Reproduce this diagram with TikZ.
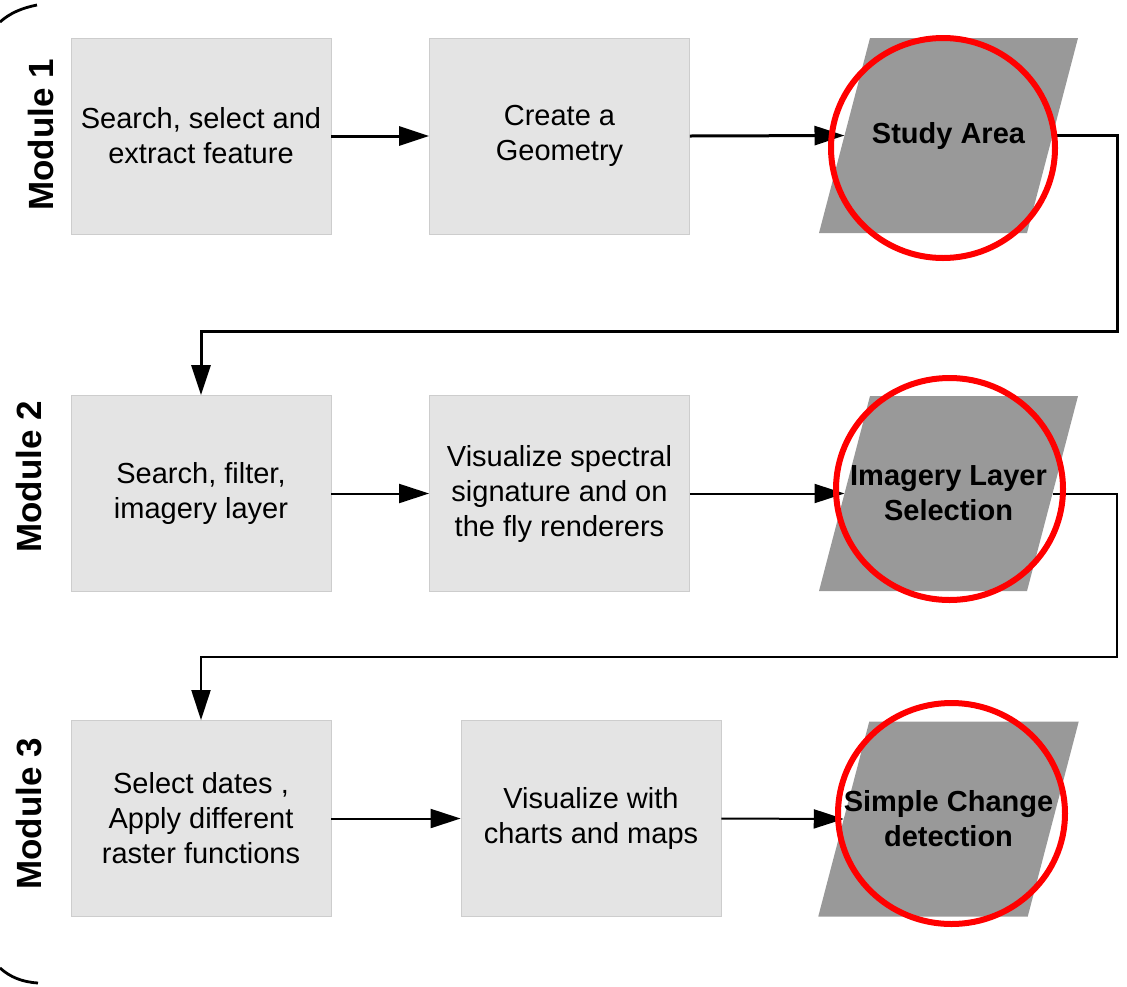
\documentclass[tikz,border=0pt]{standalone}
\usepackage{fontspec}
\setmainfont{Liberation Sans}
\usetikzlibrary{shapes.geometric,arrows.meta,backgrounds}
\definecolor{boxgray}{HTML}{E4E4E4}
\definecolor{boxedge}{HTML}{CDCDCD}
\definecolor{paragray}{HTML}{999999}
\definecolor{ringred}{HTML}{FF0000}
\begin{document}
\begin{tikzpicture}[x=1pt,y=-1pt,
  stepbox/.style={rectangle, fill=boxgray, draw=boxedge, line width=0.8pt,
    minimum width=260pt, minimum height=196pt, align=center, inner sep=0pt,
    font=\fontsize{29}{35}\selectfont},
  para/.style={rectangle, minimum width=208pt, minimum height=195pt,
    inner sep=0pt, outer sep=0pt, align=center,
    font=\fontsize{29}{35}\selectfont\bfseries},
  parafill/.style={fill=paragray},
  ring/.style={ellipse, draw=ringred, line width=6pt, inner sep=0pt},
  modlabel/.style={rotate=90, font=\fontsize{35}{40}\selectfont\bfseries},
  flow/.style={-{Triangle[length=30pt,width=19pt]}, line width=2pt},
  flowthick/.style={flow, line width=3pt},
  bracket/.style={line width=2.8pt}]

\useasboundingbox (0,0) rectangle (1127,986);

% bracket fragments
\draw[bracket] (0,22) .. controls (10,13) and (22,8) .. (37,5);
\draw[bracket] (0,968) .. controls (10,977) and (22,982) .. (38,983);

% module labels
\node[modlabel] (m1) at (41,135) {Module 1};
\node[modlabel] (m2) at (29,477) {Module 2};
\node[modlabel] (m3) at (29,814) {Module 3};

% row 1
\node[stepbox] (b11) at (201,136) {Search, select and\\extract feature};
\node[stepbox] (b12) at (559.5,136) {Create a\\Geometry};
\node[para] (p1) at (948.5,135.5) {\raisebox{4pt}{Study Area}};

% row 2
\node[stepbox] (b21) at (201,493.5) {Search, filter,\\imagery layer};
\node[stepbox] (b22) at (559.5,493.5) {Visualize spectral\\signature and on\\the fly renderers};
\node[para] (p2) at (948.5,493.5) {Imagery Layer\\Selection};

% row 3
\node[stepbox] (b31) at (201,818.5) {Select dates ,\\Apply different\\raster functions};
\node[stepbox] (b32) at (591,818.5) {Visualize with\\charts and maps};
\node[para] (p3) at (948.5,819) {Simple Change\\detection};

% parallelogram bodies
\begin{scope}[on background layer]
  \foreach \p in {p1,p2,p3} {
    \fill[parafill] ([xshift=25.5pt]\p.north west) -- ([xshift=25.5pt]\p.north east)
      -- ([xshift=-25.5pt]\p.south east) -- ([xshift=-25.5pt]\p.south west) -- cycle;
  }
\end{scope}

% loop corners
\coordinate (c1) at (1117,331);
\coordinate (c2) at (1117,657);

% connectors
\draw[flowthick] (b11.east) -- (b12.west);
\draw[flowthick] (b12.east) -- (p1.west);
\draw[flowthick] (p1.east) -| (c1) -| (b21.north);
\draw[flow] (b21.east) -- (b22.west);
\draw[flow] (b22.east) -- (p2.west);
\draw[flow] (p2.east) -| (c2) -| (b31.north);
\draw[flow] (b31.east) -- (b32.west);
\draw[flow] (b32.east) -- (p3.west);

% red rings
\node[ring, minimum width=224pt, minimum height=220pt] (r1) at (943,148) {};
\node[ring, minimum width=227pt, minimum height=222pt] (r2) at (949.5,489) {};
\node[ring, minimum width=227pt, minimum height=221pt] (r3) at (951.5,813.5) {};
\end{tikzpicture}
\end{document}
